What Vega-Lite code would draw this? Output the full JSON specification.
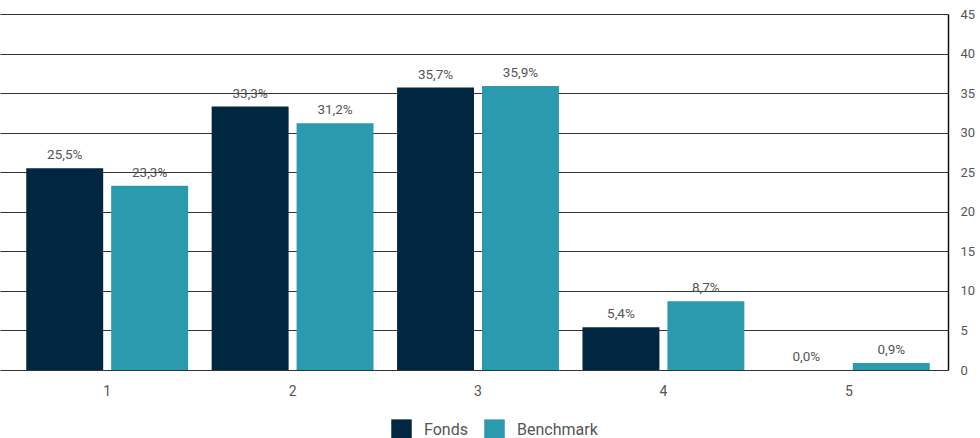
{
  "$schema": "https://vega.github.io/schema/vega-lite/v6.json",
  "width": 948,
  "height": 356,
  "padding": {"left": 0, "top": 8, "right": 0, "bottom": 0},
  "background": "white",
  "data": {
    "values": [
      {"category": "1", "series": "Fonds", "value": 25.5},
      {"category": "1", "series": "Benchmark", "value": 23.3},
      {"category": "2", "series": "Fonds", "value": 33.3},
      {"category": "2", "series": "Benchmark", "value": 31.2},
      {"category": "3", "series": "Fonds", "value": 35.7},
      {"category": "3", "series": "Benchmark", "value": 35.9},
      {"category": "4", "series": "Fonds", "value": 5.4},
      {"category": "4", "series": "Benchmark", "value": 8.7},
      {"category": "5", "series": "Fonds", "value": 0.0},
      {"category": "5", "series": "Benchmark", "value": 0.9}
    ]
  },
  "transform": [
    {"calculate": "replace(format(datum.value, '.1f'), '.', ',') + '%'", "as": "label"}
  ],
  "encoding": {
    "x": {
      "field": "category",
      "type": "nominal",
      "scale": {"paddingInner": 0.127, "paddingOuter": 0.12, "align": 0.59},
      "axis": {
        "title": null,
        "labelAngle": 0,
        "domain": false,
        "ticks": false,
        "labelPadding": 14,
        "labelFontSize": 14,
        "labelColor": "#555555",
        "labelFont": "Roboto"
      }
    },
    "xOffset": {
      "field": "series",
      "type": "nominal",
      "sort": ["Fonds", "Benchmark"],
      "scale": {"paddingInner": 0.094, "paddingOuter": 0}
    },
    "y": {
      "field": "value",
      "type": "quantitative",
      "scale": {"domain": [0, 45]},
      "axis": {
        "title": null,
        "orient": "right",
        "values": [0, 5, 10, 15, 20, 25, 30, 35, 40, 45],
        "grid": true,
        "gridColor": "#333333",
        "gridWidth": 1,
        "domain": true,
        "domainColor": "#111111",
        "domainWidth": 1.5,
        "ticks": false,
        "labelPadding": 12,
        "labelFontSize": 13,
        "labelColor": "#555555",
        "labelFont": "Roboto"
      }
    },
    "color": {
      "field": "series",
      "type": "nominal",
      "sort": ["Fonds", "Benchmark"],
      "scale": {"domain": ["Fonds", "Benchmark"], "range": ["#012640", "#2b9aaf"]},
      "legend": {
        "title": null,
        "orient": "none",
        "legendX": 391,
        "legendY": 405,
        "direction": "horizontal",
        "symbolType": "square",
        "symbolSize": 420,
        "symbolStrokeWidth": 0,
        "symbolOpacity": 1,
        "labelFontSize": 16,
        "labelColor": "#555555",
        "labelFont": "Roboto",
        "columnPadding": 16,
        "labelOffset": 12
      }
    }
  },
  "layer": [
    {"mark": {"type": "bar"}},
    {
      "mark": {"type": "text", "baseline": "bottom", "dy": -6, "fontSize": 13.5, "font": "Roboto", "color": "#555555"},
      "encoding": {
        "text": {"field": "label"},
        "color": {"value": "#555555"}
      }
    }
  ],
  "config": {
    "view": {"stroke": null}
  }
}
